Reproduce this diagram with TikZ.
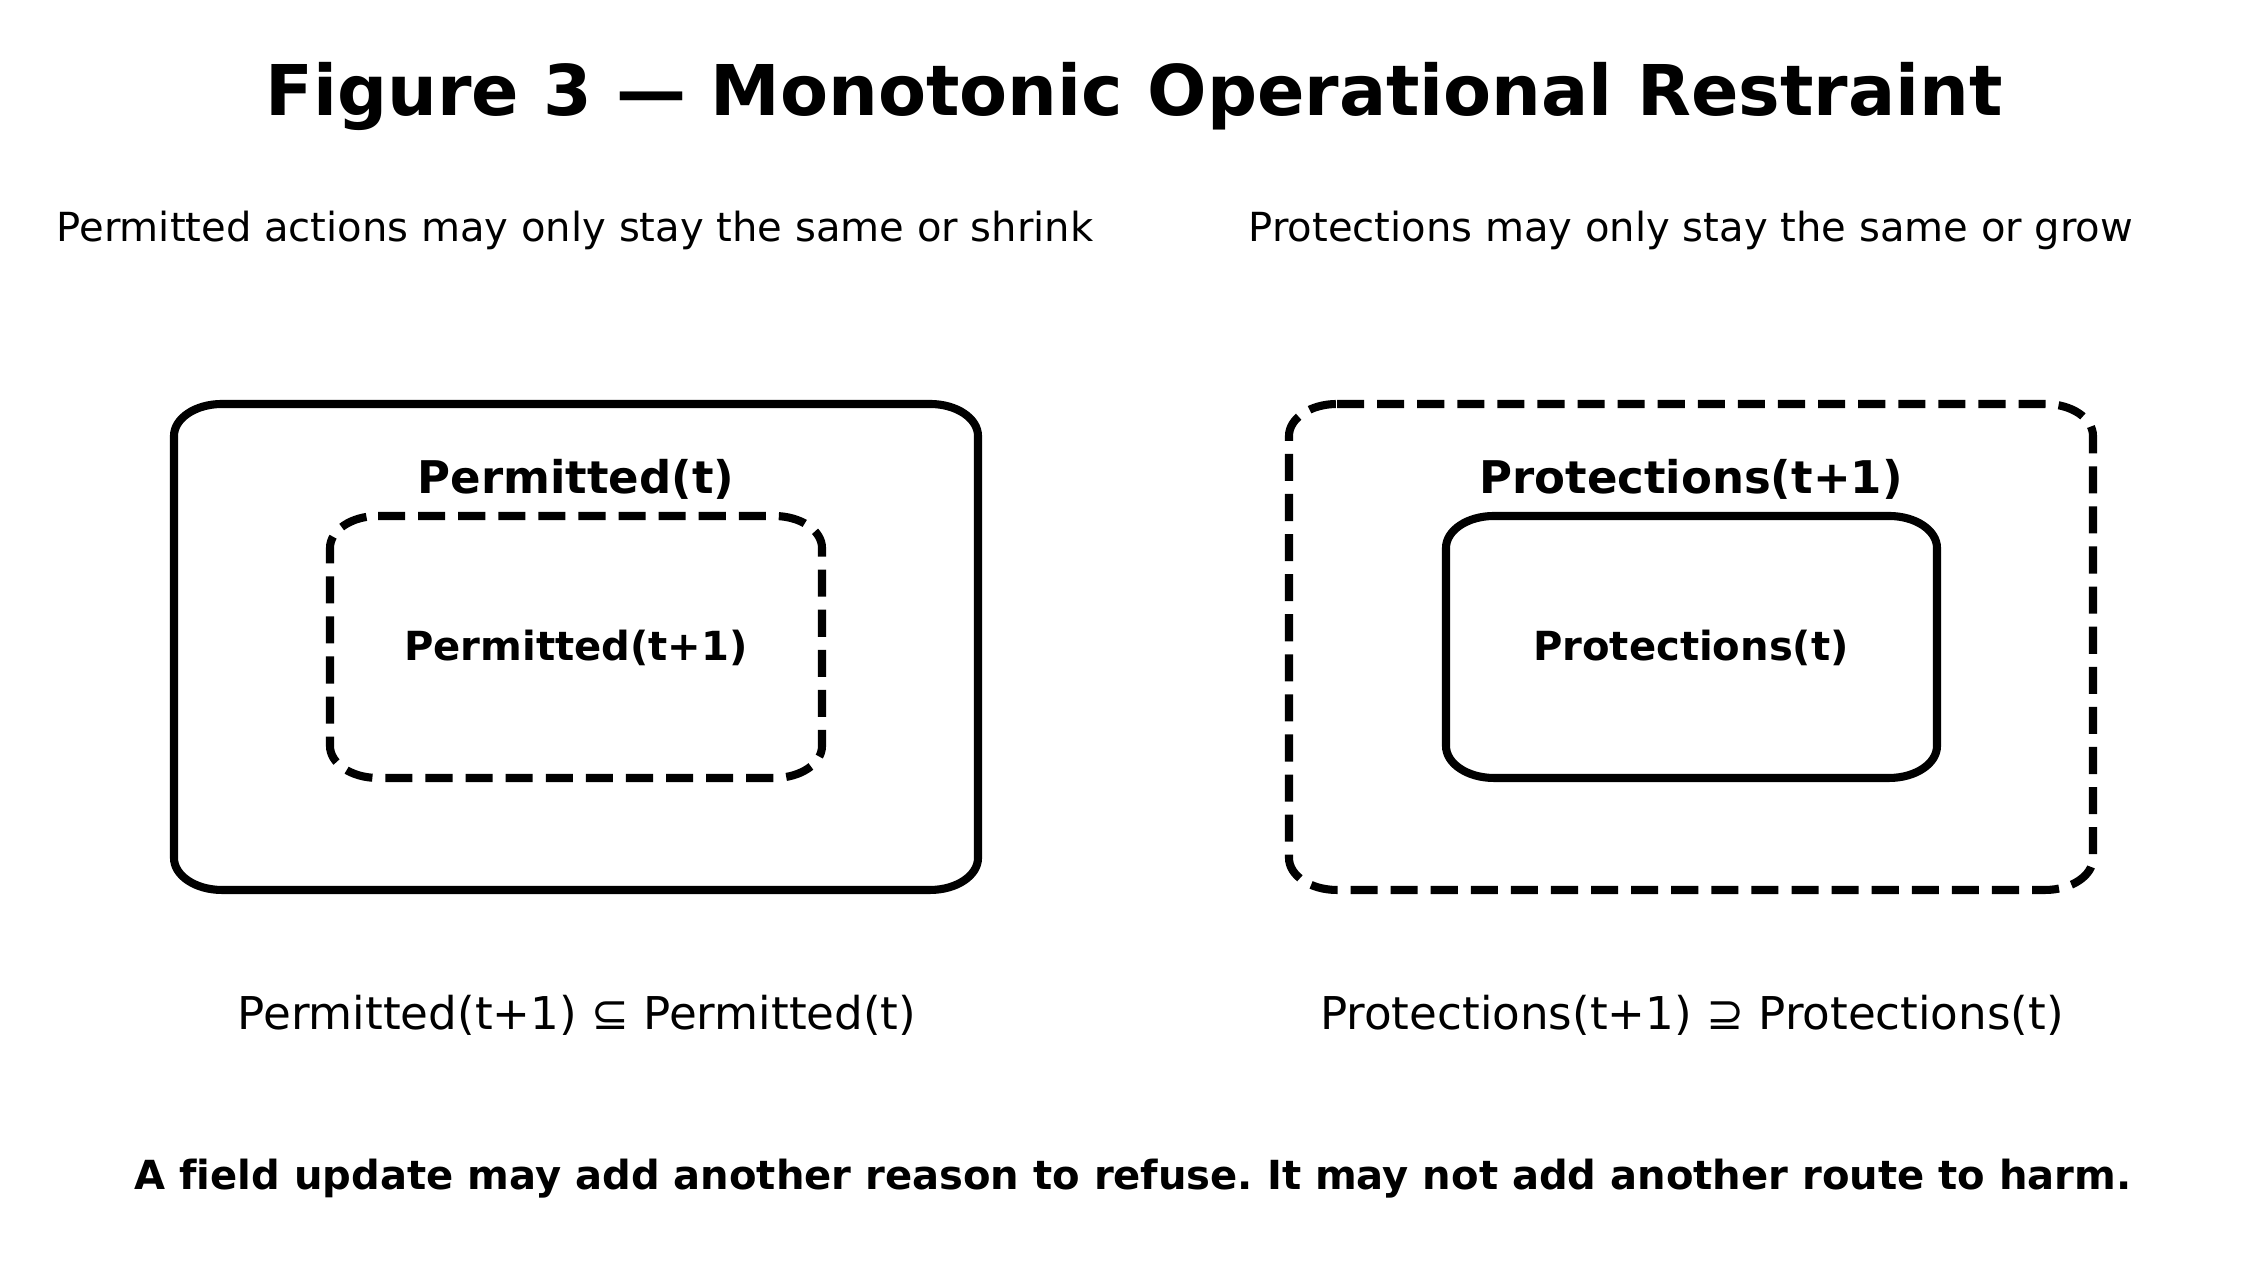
\documentclass[tikz,border=0pt]{standalone}
\usepackage{fontspec}
\setmainfont{DejaVu Sans}[Ligatures=NoCommon]
\usepackage{tikz}
\frenchspacing
\newcommand{\rx}{48}
\newcommand{\ry}{32}
% box with elliptic corners: style, left, bottom, right, top
\newcommand{\softbox}[5]{%
	\draw[#1] ({#2+\rx},#5) -- ({#4-\rx},#5) arc[start angle=90,end angle=0,x radius=\rx,y radius=\ry] -- (#4,{#3+\ry}) arc[start angle=0,end angle=-90,x radius=\rx,y radius=\ry] -- ({#2+\rx},#3) arc[start angle=270,end angle=180,x radius=\rx,y radius=\ry] -- (#2,{#5-\ry}) arc[start angle=180,end angle=90,x radius=\rx,y radius=\ry] -- cycle;}
\tikzset{
	setline/.style={line width=2.3pt},
	setdash/.style={setline, dash pattern=on 7.7pt off 3.7pt},
	outerlabel/.style={font=\fontsize{12.8}{15}\selectfont\bfseries},
	innerlabel/.style={font=\fontsize{11.4}{14}\selectfont\bfseries},
	sublabel/.style={font=\fontsize{11.4}{14}\selectfont},
	rulelabel/.style={font=\fontsize{12.85}{15}\selectfont}
}
\begin{document}
\begin{tikzpicture}[x=0.01cm,y=0.01cm]
	\useasboundingbox (0,0) rectangle (2268,1283);
	\node (title) at (1134,1187) {\fontsize{19.9}{23}\selectfont\bfseries Figure 3 — Monotonic Operational Restraint};
	\node[sublabel] (subleft) at (575,1053) {Permitted actions may only stay the same or shrink};
	\node[sublabel] (subright) at (1691,1053) {Protections may only stay the same or grow};
	
	\softbox{setline}{174}{393}{978}{879}
	\softbox{setdash}{330}{505}{822}{767}
	\softbox{setdash}{1289}{393}{2093}{879}
	\softbox{setline}{1446}{505}{1937}{767}
	
	\node[outerlabel] (permt) at (576,804) {Permitted(t)};
	\node[innerlabel] (permtt) at (576,635) {Permitted(t+1)};
	\node[outerlabel] (prottt) at (1691,804) {Protections(t+1)};
	\node[innerlabel] (prott) at (1691,635) {Protections(t)};
	
	\node[rulelabel] (ruleleft) at (577,268) {Permitted(t+1) ⊆ Permitted(t)};
	\node[rulelabel] (ruleright) at (1692,268) {Protections(t+1) ⊇ Protections(t)};
	\node[innerlabel] (footer) at (1133,104) {A field update may add another reason to refuse. It may not add another route to harm.};
\end{tikzpicture}
\end{document}
